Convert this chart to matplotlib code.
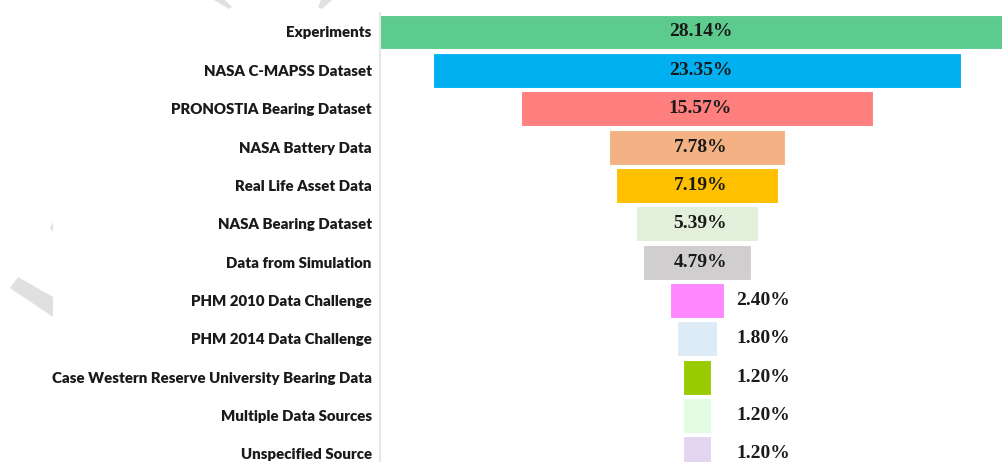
import matplotlib
matplotlib.use("Agg")
import matplotlib.pyplot as plt
from matplotlib.patches import Polygon

# ── Data ──────────────────────────────────────────────────────────────────────
sources = [
    "Experiments",
    "NASA C-MAPSS Dataset",
    "PRONOSTIA Bearing Dataset",
    "NASA Battery Data",
    "Real Life Asset Data",
    "NASA Bearing Dataset",
    "Data from Simulation",
    "PHM 2010 Data Challenge",
    "PHM 2014 Data Challenge",
    "Case Western Reserve University Bearing Data",
    "Multiple Data Sources",
    "Unspecified Source",
]
shares = [28.14, 23.35, 15.57, 7.78, 7.19, 5.39, 4.79, 2.40, 1.80, 1.20, 1.20, 1.20]
colors = ["#5DCB8D", "#00B0F0", "#FF7F7F", "#F4B183", "#FFC000", "#E2EFDA",
          "#D0CECE", "#FF88FF", "#DDEBF7", "#99CC00", "#E2FCE2", "#E4D5F0"]

W, H = 1002, 462
fig = plt.figure(figsize=(W / 100, H / 100), dpi=100)

# axes: left spine at x=380 px, top at y=13 px, runs off right and bottom edges
px_per_pct = 22.57
center_px = 697
ax = fig.add_axes([380 / W, 0, 1 - 380 / W, 1 - 13 / H])

y = list(range(len(shares)))
lefts = [-v / 2 for v in shares]
ax.barh(y, shares, left=lefts, height=0.91, color=colors,
        edgecolor="white", linewidth=0.8)

ax.set_xlim((380 - center_px) / px_per_pct, (W - center_px) / px_per_pct)
ax.set_ylim(11.21, -0.495)

ax.set_yticks(y)
ax.set_yticklabels(sources, fontsize=10.8, fontweight="heavy", family="Lato",
                   color="#1a1a1a")
ax.tick_params(axis="y", length=0, pad=6)
ax.set_xticks([])
ax.spines[["top", "right", "bottom"]].set_visible(False)
ax.spines["left"].set_color("#E6E6E6")
ax.spines["left"].set_linewidth(1.5)

# value labels: inside for wide bars, to the right for narrow ones
outside_x = (736 - center_px) / px_per_pct
for yi, v in zip(y, shares):
    txt = f"{v:.2f}%"
    if v >= 4:
        ax.text(0.15, yi, txt, ha="center", va="center", fontsize=14,
                fontweight="bold", family="Liberation Serif", color="#1a1a1a")
    else:
        ax.text(outside_x, yi, txt, ha="left", va="center", fontsize=14,
                fontweight="bold", family="Liberation Serif", color="#1a1a1a")

# faint watermark fragments
def px_poly(pts):
    return Polygon([(x / W, 1 - yy / H) for x, yy in pts], closed=True,
                   transform=fig.transFigure, facecolor="#E0E0E0",
                   edgecolor="none", zorder=-1)

fig.add_artist(px_poly([(214, 0), (225, 0), (232, 7), (229, 9)]))
fig.add_artist(px_poly([(321, 0), (332, 0), (322, 9), (318, 7)]))
fig.add_artist(px_poly([(10, 288), (18, 277), (53, 297), (53, 317)]))
fig.add_artist(px_poly([(50, 228), (53, 222), (53, 232)]))

fig.savefig("out.png", dpi=100)
